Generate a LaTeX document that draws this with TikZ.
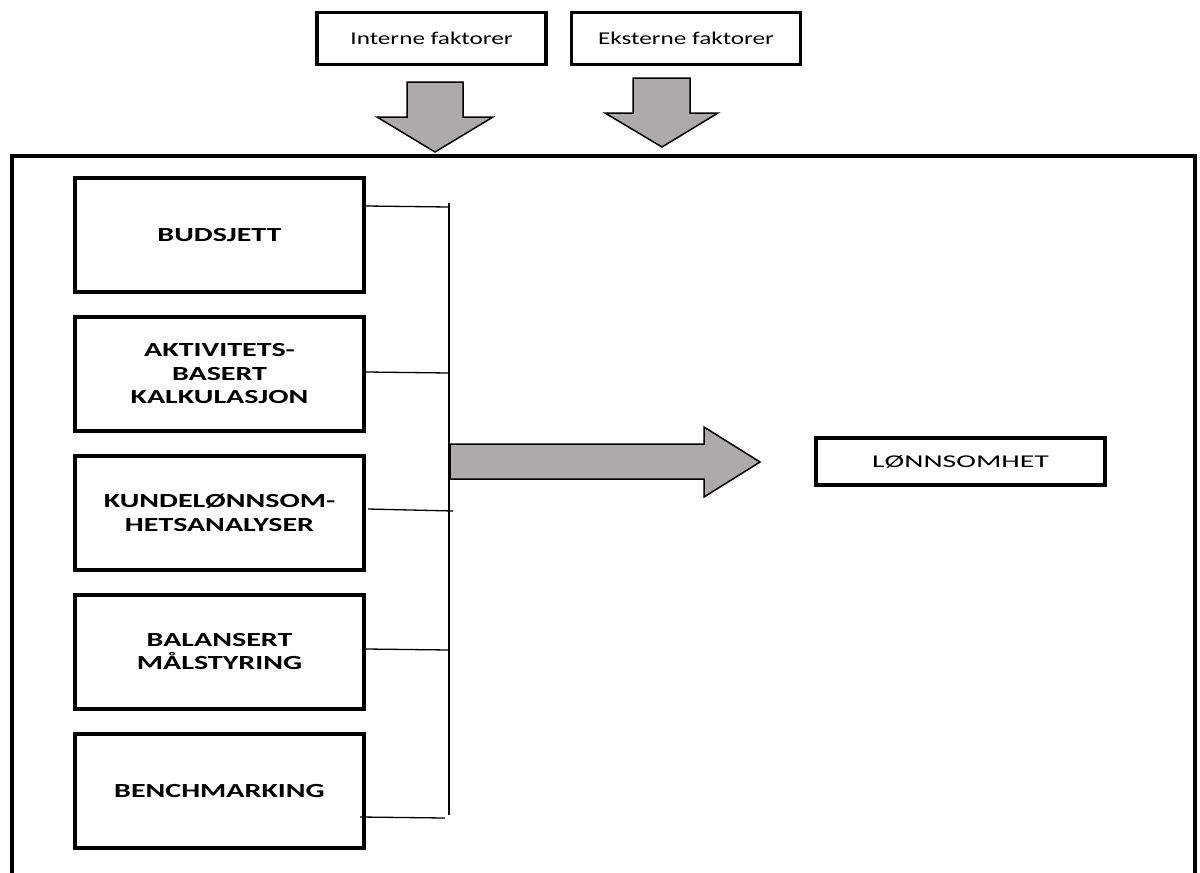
\documentclass[tikz,border=0pt]{standalone}
\usepackage{fontspec}
\setmainfont{Carlito}
\newfontfamily\regfont[FakeStretch=1.4]{Carlito}
\newfontfamily\lonfont[FakeStretch=1.65]{Carlito}
\newfontfamily\boldfont[FakeStretch=1.5]{Carlito}
\definecolor{arrowgrey}{HTML}{AEAAAA}
\tikzset{
  topbox/.style={draw, line width=3.5pt, minimum width=229pt, minimum height=52pt, inner sep=0pt,
    font=\fontsize{18}{22}\regfont},
  blockbox/.style={draw, line width=4pt, minimum width=289pt, minimum height=114pt, inner sep=0pt,
    align=center, font=\fontsize{20}{23.5}\boldfont\bfseries},
  resbox/.style={draw, line width=3.5pt, minimum width=289pt, minimum height=47pt, inner sep=0pt,
    font=\fontsize{18}{22}\lonfont},
  greyarrow/.style={fill=arrowgrey, draw=black, line width=1.5pt, line join=miter},
  conn/.style={line width=1.3pt},
  frame/.style={line width=4pt}
}
\begin{document}
\begin{tikzpicture}[x=1pt,y=-1pt]
\useasboundingbox (0,0) rectangle (1200,873);
\clip (0,0) rectangle (1200,873);
\fill[white] (0,0) rectangle (1200,873);
% outer frame (open at the bottom)
\draw[frame] (12,900) -- (12,156) -- (1195,156) -- (1195,900);
% top boxes
\node[topbox] (int) at (431.5,38.5) {Interne faktorer};
\node[topbox] (ext) at (686,38.5) {Eksterne faktorer};
% down arrows
\draw[greyarrow] (407,82) -- (463,82) -- (463,117) -- (493,117) -- (435,152) -- (377,117) -- (407,117) -- cycle;
\draw[greyarrow] (633,78) -- (690,78) -- (690,113) -- (718,113) -- (662,147) -- (605,113) -- (633,113) -- cycle;
% left blocks
\node[blockbox] (b1) at (219.5,235) {BUDSJETT};
\node[blockbox] (b2) at (219.5,374) {AKTIVITETS-\\BASERT\\KALKULASJON};
\node[blockbox] (b3) at (219.5,513) {KUNDELØNNSOM-\\HETSANALYSER};
\node[blockbox] (b4) at (219.5,651.5) {BALANSERT\\MÅLSTYRING};
\node[blockbox] (b5) at (219.5,791) {BENCHMARKING};
% bracket
\coordinate (top) at (449,203);
\coordinate (bot) at (449,815);
\draw[line width=2pt] (top) -- (bot);
\coordinate (c1) at (449,207);
\coordinate (c2) at (449,373);
\coordinate (c3) at (453,511);
\coordinate (c4) at (449,650);
\coordinate (c5) at (445,818);
\draw[conn] (b1.east |- 0,206) -- (c1);
\draw[conn] (b2.east |- 0,372) -- (c2);
\draw[conn] (368,509) -- (c3);
\draw[conn] (b4.east |- 0,649) -- (c4);
\draw[conn] (360,817) -- (c5);
% result
\node[resbox] (res) at (960.5,461.5) {LØNNSOMHET};
\draw[greyarrow] (450,444) -- (704,444) -- (704,427) -- (760,462) -- (704,497) -- (704,479) -- (450,479) -- cycle;
\end{tikzpicture}
\end{document}
